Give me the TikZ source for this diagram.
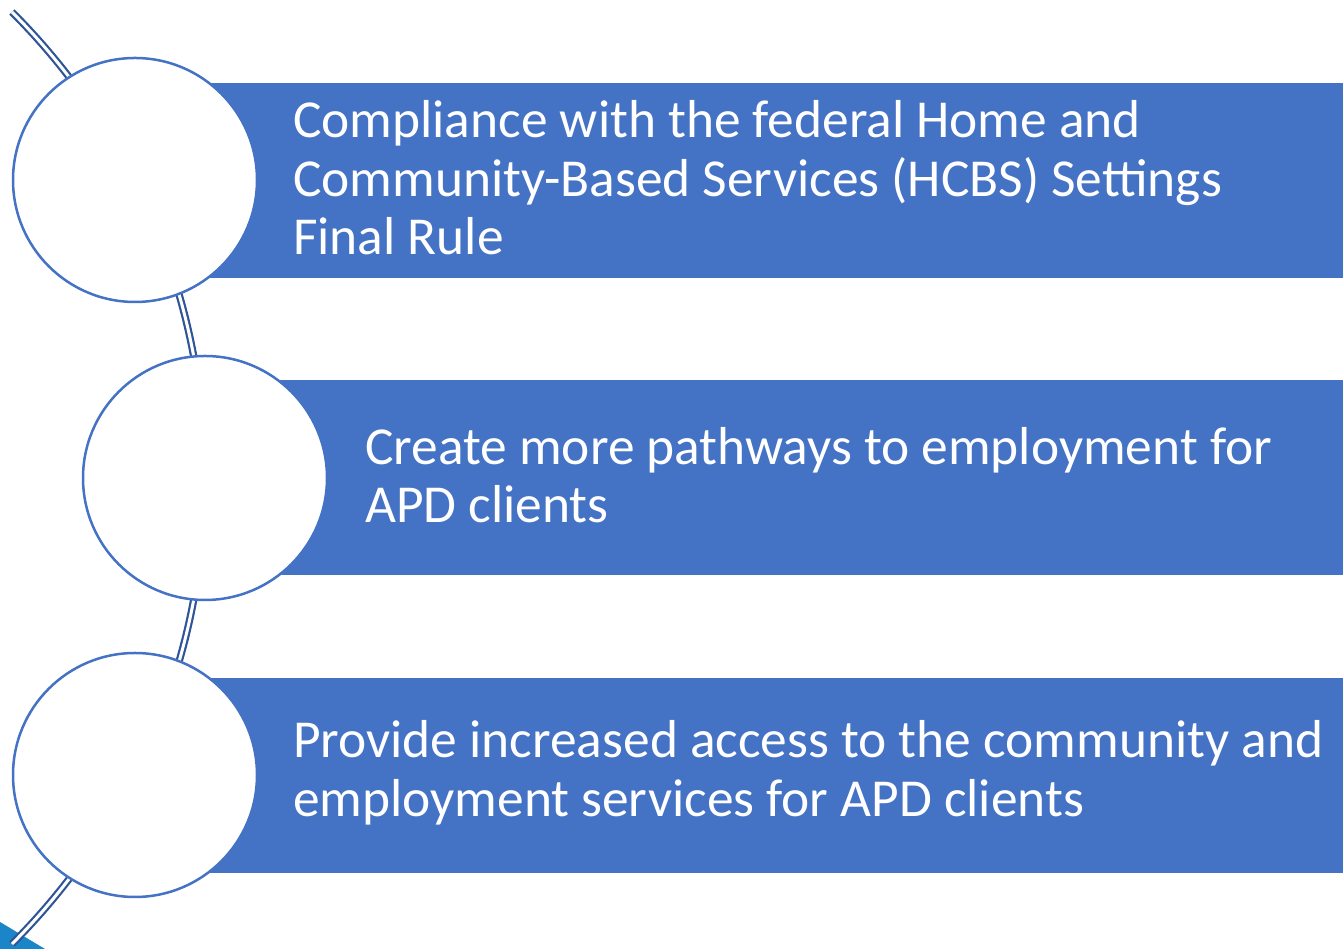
\documentclass[tikz,border=0pt]{standalone}
\usepackage{fontspec}
\setmainfont{Carlito}
\definecolor{boxblue}{HTML}{4472C4}
\definecolor{arcblue}{HTML}{2F5597}
\definecolor{cornerblue}{HTML}{1A86C7}
\begin{document}
\begin{tikzpicture}[x=1pt,y=1pt,
  circ/.style={circle,draw=boxblue,line width=2.5pt,fill=white,minimum size=244pt,inner sep=0pt},
  band/.style={fill=boxblue,draw=none},
  lbl/.style={anchor=west,align=left,text=white,font=\fontsize{53.4}{58.5}\selectfont,inner sep=0pt},
  arcline/.style={draw=arcblue,line width=2.2pt,double=white,double distance=3pt}
]
\useasboundingbox (0,0) rectangle (1343,949);
% background fragment
\fill[cornerblue] (0,27) -- (45,0) -- (0,0) -- cycle;
% arc
\draw[arcline] (-454,471) ++(45:659pt) arc[start angle=45,end angle=-45,radius=659pt];
% bands
\fill[band] (135,671) rectangle (1343,866);
\fill[band] (205,374) rectangle (1343,569);
\fill[band] (135,76) rectangle (1343,271);
% circles
\node[circ] (c1) at (135,769) {};
\node[circ] (c2) at (205,471) {};
\node[circ] (c3) at (135,174) {};
% labels
\node[lbl] (t1) at (293,771) {Compliance with the federal Home and\\Community-Based Services (HCBS) Settings\\Final Rule};
\node[lbl] (t2) at (365,474) {Create more pathways to employment for\\APD clients};
\node[lbl] (t3) at (293,176) {Provide increased access to the community and\\employment services for APD clients};
\end{tikzpicture}
\end{document}
